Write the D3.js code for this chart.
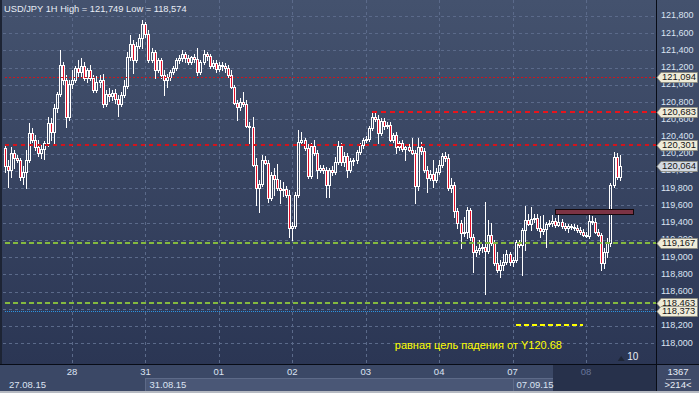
<!DOCTYPE html>
<html><head><meta charset="utf-8">
<script src="https://cdn.jsdelivr.net/npm/d3@7"></script>
<style>html,body{margin:0;padding:0;background:#3b4866;overflow:hidden}text{font-family:"Liberation Sans",Arial,sans-serif}</style>
</head><body>
<svg id="c" width="699" height="393"></svg>
<script>
const titleText = "USD/JPY 1H High = 121,749 Low = 118,574";
const open = [120.27,120.06,120.01,120.21,120.15,120.13,119.93,119.99,120.13,120.44,
120.36,120.28,120.21,120.26,120.33,120.56,120.45,120.73,120.90,121.23,
121.06,120.63,121.01,121.06,121.20,121.15,121.22,121.08,121.17,121.08,
120.94,121.03,121.06,120.78,120.90,120.87,120.91,120.84,120.78,120.88,
120.99,121.32,121.47,121.29,121.45,121.54,121.71,121.59,121.29,121.38,
121.17,121.29,121.12,121.06,121.09,121.15,121.20,121.29,121.31,121.36,
121.31,121.27,121.32,121.30,121.15,121.27,121.36,121.34,121.22,121.25,
121.18,121.23,121.22,121.20,121.12,120.98,120.79,120.74,120.80,120.78,
120.52,120.51,120.07,119.80,119.85,120.13,120.09,119.69,119.95,119.91,
119.80,119.78,119.79,119.72,119.34,119.36,119.72,120.34,120.36,120.27,
119.94,120.29,120.21,120.01,120.04,120.01,119.84,120.01,119.99,120.11,
120.29,120.11,120.18,120.01,120.12,120.13,120.22,120.30,120.36,120.37,
120.50,120.63,120.60,120.44,120.58,120.52,120.53,120.36,120.42,120.28,
120.33,120.26,120.28,120.24,120.21,119.83,120.28,120.23,120.01,119.92,
119.97,119.90,119.99,120.07,120.18,120.15,119.80,119.84,119.54,119.40,
119.28,119.29,119.55,119.23,119.06,119.08,119.11,119.12,119.07,119.26,
119.17,118.93,118.85,118.91,118.94,119.04,118.94,118.97,119.18,119.14,
119.32,119.43,119.39,119.44,119.45,119.34,119.30,119.33,119.39,119.40,
119.42,119.37,119.41,119.36,119.34,119.36,119.35,119.34,119.32,119.29,
119.26,119.25,119.42,119.41,119.29,119.26,118.93,119.06,119.17,119.84,
120.16,119.93];
const high = [120.30,120.13,120.28,120.24,120.19,120.15,120.06,120.24,120.56,120.50,
120.42,120.36,120.30,120.35,120.63,120.62,120.78,120.92,121.41,121.27,
121.12,121.06,121.17,121.22,121.29,121.31,121.27,121.20,121.23,121.12,
121.10,121.12,121.13,120.94,120.96,120.94,120.95,120.88,120.92,121.06,
121.38,121.58,121.52,121.50,121.59,121.749,121.73,121.64,121.43,121.41,
121.31,121.31,121.17,121.13,121.17,121.22,121.31,121.35,121.41,121.38,
121.35,121.34,121.36,121.43,121.29,121.41,121.38,121.36,121.29,121.29,
121.27,121.27,121.25,121.23,121.17,121.00,120.83,120.85,120.92,120.83,
120.57,120.63,120.15,119.90,120.19,120.18,120.13,119.99,120.04,120.08,
119.90,119.87,119.83,119.78,119.41,119.76,120.48,120.45,120.38,120.31,
120.33,120.36,120.24,120.07,120.07,120.05,120.04,120.06,120.16,120.35,
120.33,120.22,120.21,120.15,120.15,120.24,120.33,120.38,120.41,120.52,
120.67,120.683,120.65,120.62,120.62,120.57,120.57,120.44,120.45,120.35,
120.36,120.30,120.31,120.38,120.24,120.38,120.34,120.27,120.06,120.01,
120.13,120.04,120.13,120.21,120.22,120.20,119.92,119.87,119.57,119.43,
119.47,119.58,119.57,119.27,119.13,119.20,119.15,119.64,119.43,119.40,
119.20,119.06,118.97,119.04,119.08,119.06,119.00,119.20,119.20,119.34,
119.59,119.50,119.58,119.50,119.50,119.48,119.49,119.41,119.43,119.49,
119.45,119.49,119.44,119.40,119.39,119.39,119.39,119.37,119.35,119.33,
119.29,119.49,119.48,119.45,119.33,119.28,119.11,119.22,119.86,120.22,
120.21,120.19];
const low = [119.99,119.82,119.93,120.04,120.11,119.90,119.85,119.80,120.11,120.34,
120.24,120.18,120.15,120.14,120.29,120.36,120.30,120.69,120.87,121.01,
120.51,120.59,120.96,121.03,121.09,121.10,121.06,121.03,121.06,120.92,
120.92,120.98,120.74,120.76,120.81,120.83,120.79,120.64,120.76,120.86,
120.96,121.29,121.14,121.27,121.43,121.43,121.56,121.27,121.27,121.08,
121.15,121.08,120.88,120.98,121.06,121.13,121.17,121.25,121.28,121.27,
121.24,121.24,121.27,121.12,121.13,121.24,121.29,121.20,121.20,121.15,
121.16,121.17,121.15,121.09,120.96,120.78,120.59,120.71,120.76,120.51,
120.33,120.06,119.61,119.52,119.83,120.08,119.64,119.66,119.72,119.78,
119.63,119.71,119.70,119.23,119.20,119.34,119.70,120.31,120.24,119.92,
119.92,120.19,119.92,119.99,119.98,119.70,119.70,119.95,119.97,120.08,
120.07,120.06,119.93,119.99,120.07,120.09,120.20,120.27,120.34,120.35,
120.48,120.58,120.33,120.42,120.49,120.50,120.35,120.34,120.21,120.24,
120.23,120.13,120.23,120.20,119.63,119.78,120.20,119.99,119.76,119.90,
119.82,119.87,119.97,120.05,120.12,119.78,119.76,119.47,119.34,119.11,
119.25,119.22,119.20,118.83,119.01,119.04,119.06,118.574,119.05,119.14,
118.91,118.83,118.77,118.85,118.92,118.91,118.90,118.94,119.12,118.79,
119.08,119.37,119.32,119.41,119.32,119.23,119.27,119.12,119.36,119.36,
119.35,119.36,119.34,119.32,119.29,119.33,119.32,119.29,119.27,119.25,
119.23,119.22,119.39,119.28,119.25,118.85,118.88,119.00,119.13,119.82,
119.91,119.90];
const close = [120.06,120.01,120.21,120.15,120.13,119.93,119.99,120.13,120.44,120.36,
120.28,120.21,120.26,120.33,120.56,120.45,120.73,120.90,121.23,121.06,
120.63,121.01,121.06,121.20,121.15,121.22,121.08,121.17,121.08,120.94,
121.03,121.06,120.78,120.90,120.87,120.91,120.84,120.78,120.88,120.99,
121.32,121.47,121.29,121.45,121.54,121.71,121.59,121.29,121.38,121.17,
121.29,121.12,121.06,121.09,121.15,121.20,121.29,121.31,121.36,121.31,
121.27,121.32,121.30,121.15,121.27,121.36,121.34,121.22,121.25,121.18,
121.23,121.22,121.20,121.12,120.98,120.79,120.74,120.80,120.78,120.52,
120.51,120.07,119.80,119.85,120.13,120.09,119.69,119.95,119.91,119.80,
119.78,119.79,119.72,119.34,119.36,119.72,120.34,120.36,120.27,119.94,
120.29,120.21,120.01,120.04,120.01,119.84,120.01,119.99,120.11,120.29,
120.11,120.18,120.01,120.12,120.13,120.22,120.30,120.36,120.37,120.50,
120.63,120.60,120.44,120.58,120.52,120.53,120.36,120.42,120.28,120.33,
120.26,120.28,120.24,120.21,119.83,120.28,120.23,120.01,119.92,119.97,
119.90,119.99,120.07,120.18,120.15,119.80,119.84,119.54,119.40,119.28,
119.29,119.55,119.23,119.06,119.08,119.11,119.12,119.07,119.26,119.17,
118.93,118.85,118.91,118.94,119.04,118.94,118.97,119.18,119.14,119.32,
119.43,119.39,119.44,119.45,119.34,119.30,119.33,119.39,119.40,119.42,
119.37,119.41,119.36,119.34,119.36,119.35,119.34,119.32,119.29,119.26,
119.25,119.42,119.41,119.29,119.26,118.93,119.06,119.17,119.84,120.16,
119.93,120.064];

const dayTickIndex = [22,46,70,94,118,142,166,190];
const dayLabels = ["28","31","01","02","03","04","07","08"];
const dateLabelIndex = [0,46,166];
const dateLabels = ["27.08.15","31.08.15","07.09.15"];
const priceTicks = [118.0,118.2,118.4,118.6,118.8,119.0,119.2,119.4,119.6,119.8,120.0,120.2,120.4,120.6,120.8,121.0,121.2,121.4,121.6,121.8];
const levelValues = [121.094,120.683,120.301,119.167,118.463,118.373];
const levelStartIndex = [0,120,0,0,0,0];
const currentPrice = 120.064;
const targetLevel = 118.21;
const targetRange = [167,189];
const zonePrices = [119.50,119.56];
const zoneRange = [180,205.5];
const annotation = "равная цель падения от  Y120.68";
const counterTexts = ["1367",">214<"];
const scrollRange = [179.2,214];
const markerIndex = 201.5;
const markerText = "10";

const W=699,H=393, plotR=656, plotB=364;
const svg=d3.select("#c");
const defs=svg.append("defs");
const gr=defs.append("linearGradient").attr("id","bg").attr("x1",0).attr("y1",0).attr("x2",0).attr("y2",1);
gr.append("stop").attr("offset","0%").attr("stop-color","#44526e");
gr.append("stop").attr("offset","100%").attr("stop-color","#2b3654");
svg.append("rect").attr("width",W).attr("height",plotB).attr("fill","url(#bg)");

const x=d3.scaleLinear().domain([0,201]).range([4.69,619.65]);
const y=d3.scaleLinear().domain([118,121.8]).range([343.3,16]);
const fmt=v=>d3.format(".3f")(v).replace(".",",");

// grid
const grid=svg.append("g").attr("shape-rendering","crispEdges");
grid.selectAll("line.h").data(priceTicks).join("line")
  .attr("x1",3).attr("x2",plotR).attr("y1",d=>Math.round(y(d))+0.5).attr("y2",d=>Math.round(y(d))+0.5)
  .attr("stroke","#5b6a8a").attr("stroke-dasharray","3,3");
grid.selectAll("line.v").data(dayTickIndex).join("line")
  .attr("y1",0).attr("y2",plotB).attr("x1",d=>Math.round(x(d))+0.5).attr("x2",d=>Math.round(x(d))+0.5)
  .attr("stroke","#5b6a8a").attr("stroke-dasharray","3,3");

// candles
const bars=close.map((c,i)=>({i,o:open[i],h:high[i],l:low[i],c}));
const cg=svg.append("g").attr("shape-rendering","crispEdges");
bars.forEach(b=>{
  const cx=Math.round(x(b.i));
  const top=Math.round(y(Math.max(b.o,b.c))), bot=Math.round(y(Math.min(b.o,b.c)));
  const hy=Math.round(y(b.h)), ly=Math.round(y(b.l));
  const bh=Math.max(bot-top,1);
  if(hy<top) cg.append("line").attr("x1",cx+0.5).attr("x2",cx+0.5).attr("y1",hy).attr("y2",top).attr("stroke","#fff");
  if(ly>top+bh) cg.append("line").attr("x1",cx+0.5).attr("x2",cx+0.5).attr("y1",top+bh).attr("y2",ly+1).attr("stroke","#fff");
  cg.append("rect").attr("x",cx-0.5).attr("y",top+0.5).attr("width",2).attr("height",bh)
    .attr("fill",b.c<b.o?"#e3102a":"none").attr("stroke","#fff");
});

// zone
svg.append("rect").attr("x",Math.round(x(zoneRange[0]))+0.5).attr("y",Math.round(y(zonePrices[1]))+0.5)
  .attr("width",Math.round(x(zoneRange[1])-x(zoneRange[0]))).attr("height",Math.round(y(zonePrices[0])-y(zonePrices[1])))
  .attr("fill","#7c3344").attr("stroke","#14090c").attr("shape-rendering","crispEdges");

// levels
const lstyle=[
 {c:"#d2141c",w:1,d:"2,2"},
 {c:"#e8141c",w:2,d:"5,4"},
 {c:"#d2141c",w:2,d:"4,4"},
 {c:"#84b940",w:2,d:"5,3"},
 {c:"#84b940",w:2,d:"5,3"},
 {c:"#2c93e0",w:1,d:"1,1"}];
const lg=svg.append("g").attr("shape-rendering","crispEdges");
levelValues.forEach((v,k)=>{
  const s=lstyle[k]; const yy=s.w%2?Math.round(y(v))+0.5:Math.round(y(v));
  lg.append("line").attr("x1",Math.max(3,x(levelStartIndex[k]))).attr("x2",plotR).attr("y1",yy).attr("y2",yy)
    .attr("stroke",s.c).attr("stroke-width",s.w).attr("stroke-dasharray",s.d);
});
lg.append("line").attr("x1",x(targetRange[0])).attr("x2",x(targetRange[1])).attr("y1",Math.round(y(targetLevel))).attr("y2",Math.round(y(targetLevel)))
  .attr("stroke","#ffff00").attr("stroke-width",2).attr("stroke-dasharray","5,3");

svg.append("text").attr("x",x(127.5)).attr("y",y(117.965)).attr("dominant-baseline","middle")
  .attr("font-size",11).attr("fill","#ffff00").text(annotation);

// title
svg.append("text").attr("x",4).attr("y",11.5).attr("font-size",9.3).attr("fill","#e8edf6").text(titleText);

// marker
const mx=x(markerIndex);
svg.append("path").attr("d",`M${mx-3.5},361 L${mx},356 L${mx+3.5},361 Z`).attr("fill","#1e2637");
svg.append("text").attr("x",mx+6).attr("y",357).attr("dominant-baseline","middle").attr("font-size",10).attr("fill","#e8edf6").text(markerText);

// left edge
svg.append("rect").attr("x",0).attr("y",0).attr("width",2).attr("height",plotB).attr("fill","#1d2434");

// right axis
svg.append("line").attr("x1",plotR+0.5).attr("x2",plotR+0.5).attr("y1",0).attr("y2",391).attr("stroke","#080c16").attr("shape-rendering","crispEdges");
svg.append("g").selectAll("text").data(priceTicks).join("text")
  .attr("x",661).attr("y",d=>y(d)).attr("dominant-baseline","middle").attr("font-size",9).attr("fill","#dbe3f2").text(fmt);

// tags
const tags=levelValues.map((v,k)=>({v,cur:false}));
tags.splice(3,0,{v:currentPrice,cur:true});
const tg=svg.append("g");
tags.forEach(t=>{
  const yy=Math.round(y(t.v))+0.5;
  tg.append("path").attr("d",`M${plotR+1},${yy} L${plotR+5},${yy-5} L697.5,${yy-5} L697.5,${yy+5} L${plotR+5},${yy+5} Z`)
    .attr("fill",t.cur?"#d3d9e2":"#efecd9").attr("stroke","#8c8a7c").attr("stroke-width",0.8);
  tg.append("text").attr("x",662).attr("y",yy+0.5).attr("dominant-baseline","middle").attr("font-size",9.4).attr("fill","#151515").text(fmt(t.v));
});

// bottom axis
const ax=svg.append("g").attr("shape-rendering","crispEdges");
ax.append("rect").attr("x",0).attr("y",plotB).attr("width",plotR).attr("height",27).attr("fill","#3b4866");
ax.append("rect").attr("x",Math.round(x(46))).attr("y",378).attr("width",Math.round(x(scrollRange[0])-x(46))).attr("height",13).attr("fill","#4a5776");
ax.append("line").attr("x1",Math.round(x(46))).attr("x2",Math.round(x(scrollRange[0]))).attr("y1",378.5).attr("y2",378.5).attr("stroke","#5d6a88");
[46,166].forEach(i=>ax.append("line").attr("x1",Math.round(x(i))+0.5).attr("x2",Math.round(x(i))+0.5).attr("y1",378).attr("y2",391).attr("stroke","#5d6a88"));
ax.append("rect").attr("x",Math.round(x(scrollRange[0]))).attr("y",plotB+1).attr("width",plotR-Math.round(x(scrollRange[0]))).attr("height",26).attr("fill","#27314b");
ax.append("line").attr("x1",0).attr("x2",plotR).attr("y1",plotB+0.5).attr("y2",plotB+0.5).attr("stroke","#080c16");
// right bottom box
ax.append("rect").attr("x",plotR+1).attr("y",plotB).attr("width",W-plotR-1).attr("height",27).attr("fill","#3e4a68");
ax.append("line").attr("x1",plotR).attr("x2",W).attr("y1",plotB+0.5).attr("y2",plotB+0.5).attr("stroke","#080c16");
ax.append("line").attr("x1",666).attr("x2",691).attr("y1",379.5).attr("y2",379.5).attr("stroke","#9aa3b6");
svg.append("text").attr("x",678).attr("y",372).attr("text-anchor","middle").attr("dominant-baseline","middle").attr("font-size",9.5).attr("fill","#e8edf6").text(counterTexts[0]);
svg.append("text").attr("x",678).attr("y",385.5).attr("text-anchor","middle").attr("dominant-baseline","middle").attr("font-size",9.5).attr("fill","#e8edf6").text(counterTexts[1]);

svg.append("g").selectAll("text").data(dayTickIndex).join("text")
  .attr("x",d=>x(d)).attr("y",372.5).attr("text-anchor","middle").attr("dominant-baseline","middle").attr("font-size",9.5)
  .attr("fill",(d,k)=>x(d)>x(scrollRange[0])?"#66749a":"#dbe3f2").text((d,k)=>dayLabels[k]);
svg.append("g").selectAll("text").data(dateLabelIndex).join("text")
  .attr("x",d=>Math.max(9,x(d)+4)).attr("y",385).attr("dominant-baseline","middle").attr("font-size",9.5)
  .attr("fill","#dbe3f2").text((d,k)=>dateLabels[k]);

svg.append("rect").attr("x",0).attr("y",391).attr("width",W).attr("height",2).attr("fill","#b6bac2");
</script>
</body></html>
